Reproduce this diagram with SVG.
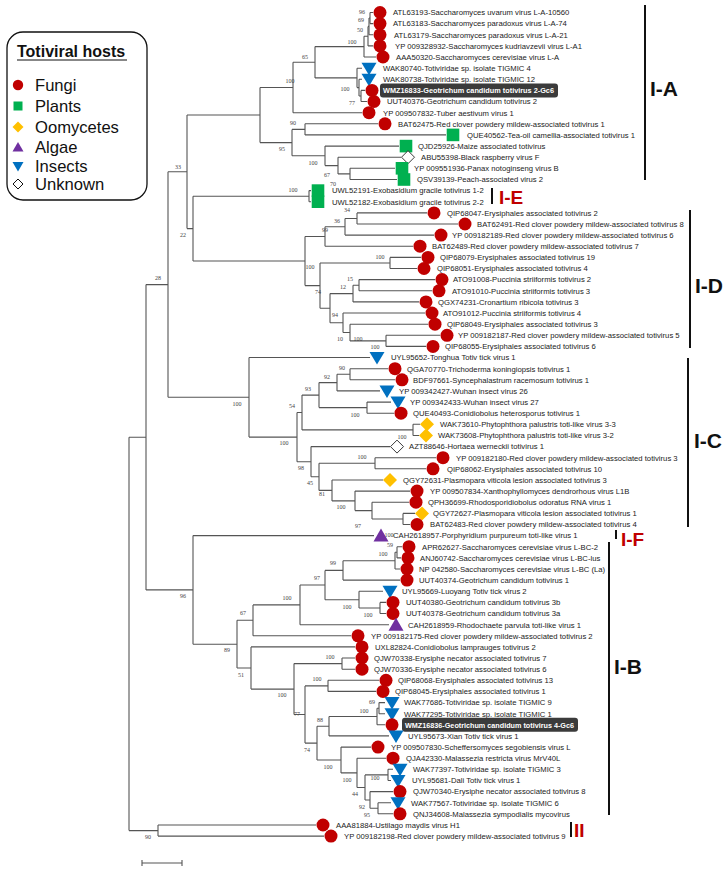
<svg xmlns="http://www.w3.org/2000/svg" width="725" height="871" viewBox="0 0 725 871">
<style>
.br{fill:none;stroke:#555;stroke-width:1.1}
.lf{font-family:"Liberation Sans",Arial,sans-serif;font-size:7.7px;fill:#222}
.hl{font-family:"Liberation Sans",Arial,sans-serif;font-size:7.7px;fill:#fff;font-weight:bold}
.bs{font-family:"Liberation Serif","Times New Roman",serif;font-size:6px;fill:#444;text-anchor:middle}
.cl{font-family:"Liberation Sans",Arial,sans-serif;font-size:21px;font-weight:bold;fill:#111}
.clr{font-family:"Liberation Sans",Arial,sans-serif;font-size:19px;font-weight:bold;fill:#c00000}
.bar{stroke:#111;stroke-width:2}
.lg{font-family:"Liberation Sans",Arial,sans-serif;font-size:16.6px;fill:#111}
</style>
<defs>
<circle id="mF" r="6.5" fill="#c00000"/>
<rect id="mP" x="-6.3" y="-6.3" width="12.6" height="12.6" fill="#00b050"/>
<path id="mO" d="M0,-7L7,0L0,7L-7,0Z" fill="#ffc000"/>
<path id="mU" d="M0,-6.5L6.5,0L0,6.5L-6.5,0Z" fill="#fff" stroke="#222" stroke-width="0.9"/>
<path id="mI" d="M-7.5,-5.5H7.5L0,7Z" fill="#0070c0"/>
<path id="mA" d="M-7.5,6H7.5L0,-7Z" fill="#7030a0"/>
</defs>
<rect width="725" height="871" fill="#fff"/>

<g id="legend">
<rect x="7" y="32" width="140" height="168" rx="16" fill="#fff" stroke="#111" stroke-width="1.3"/>
<text x="17" y="57" font-family="Liberation Sans,Arial,sans-serif" font-size="16px" font-weight="bold" fill="#111">Totiviral hosts</text>
<line x1="17" y1="60" x2="127" y2="60" stroke="#111" stroke-width="1.2"/>
<circle cx="18" cy="85" r="5.2" fill="#c00000"/><text class="lg" x="35" y="91">Fungi</text>
<rect x="13.5" y="101.5" width="9" height="9" fill="#00b050"/><text class="lg" x="35" y="112">Plants</text>
<path d="M18,121.5L23.5,127L18,132.5L12.5,127Z" fill="#ffc000"/><text class="lg" x="35" y="133">Oomycetes</text>
<path d="M12.5,151.5H23.5L18,142Z" fill="#7030a0"/><text class="lg" x="35" y="153">Algae</text>
<path d="M12.5,162H23.5L18,171.5Z" fill="#0070c0"/><text class="lg" x="35" y="172">Insects</text>
<path d="M18,179L23,184L18,189L13,184Z" fill="#fff" stroke="#111" stroke-width="1"/><text class="lg" x="35" y="190">Unknown</text>
</g>

<g id="connectors" class="br">
<path d="M129,437.3V830.6M129,437.3H146M129,830.6H158"/>
<path d="M158,825V836.1M158,825H316M158,836.1H324"/>
<path d="M146,284.6V589.9M146,284.6H168M146,589.9H193"/>
<path d="M168,171.8V397.3M168,171.8H187M168,397.3H249"/>
<path d="M187,115V228.6M187,115H260M187,228.6H193"/>
<path d="M260,87.5V142.6M260,87.5H293M260,142.6H292"/>
<path d="M293,62.3V112.7M293,62.3H315M293,112.7H362"/>
<path d="M315,46.6V77.9M315,46.6H364M315,77.9H357"/>
<path d="M364,36.2V57M364,36.2H368M364,57H376"/>
<path d="M368,26.4V45.9M368,26.4H369M368,45.9H373"/>
<path d="M369,18V34.8M369,18H370M369,34.8H373"/>
<path d="M370,12.5V23.6M370,12.5H373M370,23.6H373"/>
<path d="M357,68.2V87.6M357,68.2H362M357,87.6H359"/>
<path d="M359,79.3V96M359,79.3H362M359,96H361"/>
<path d="M361,90.4V101.5M361,90.4H365M361,101.5H367"/>
<path d="M292,129.4V155.8M292,129.4H305M292,155.8H325"/>
<path d="M305,123.8V134.9M305,123.8H378M305,134.9H446"/>
<path d="M325,146.1V165.6M325,146.1H399M325,165.6H338"/>
<path d="M338,157.2V173.9M338,157.2H401M338,173.9H350"/>
<path d="M350,168.3V179.5M350,168.3H395M350,179.5H397"/>
<path d="M193,196.2V261M193,196.2H309M193,261H305"/>
<path d="M309,190.6V201.7M309,190.6H311M309,201.7H311"/>
<path d="M305,236.5V285.6M305,236.5H325M305,285.6H320"/>
<path d="M325,226.8V246.2M325,226.8H345M325,246.2H413"/>
<path d="M345,218.5V235.1M345,218.5H357M345,235.1H434"/>
<path d="M357,212.9V224M357,212.9H427M357,224H458"/>
<path d="M320,263V308.2M320,263H390M320,308.2H330"/>
<path d="M390,257.4V268.5M390,257.4H421M390,268.5H417"/>
<path d="M330,293.6V322.8M330,293.6H353M330,322.8H343"/>
<path d="M353,285.2V301.9M353,285.2H359M353,301.9H419"/>
<path d="M359,279.6V290.8M359,279.6H435M359,290.8H432"/>
<path d="M343,313V332.5M343,313H425M343,332.5H350"/>
<path d="M350,324.2V340.9M350,324.2H428M350,340.9H386"/>
<path d="M386,335.3V346.4M386,335.3H440M386,346.4H426"/>
<path d="M249,357.5V437.1M249,357.5H370M249,437.1H297"/>
<path d="M297,412.5V461.7M297,412.5H302M297,461.7H311"/>
<path d="M302,395.1V429.9M302,395.1H319M302,429.9H413"/>
<path d="M319,382.6V407.6M319,382.6H337M319,407.6H367"/>
<path d="M337,374.2V390.9M337,374.2H350M337,390.9H380"/>
<path d="M350,368.7V379.8M350,368.7H388M350,379.8H395"/>
<path d="M367,402.1V413.2M367,402.1H391M367,413.2H394"/>
<path d="M413,424.3V435.5M413,424.3H420M413,435.5H419"/>
<path d="M311,446.6V476.8M311,446.6H390M311,476.8H319"/>
<path d="M319,463.2V490.4M319,463.2H375M319,490.4H332"/>
<path d="M375,457.7V468.8M375,457.7H436M375,468.8H426"/>
<path d="M332,480V500.9M332,480H383M332,500.9H355"/>
<path d="M355,491.1V510.6M355,491.1H410M355,510.6H372"/>
<path d="M372,502.2V519M372,502.2H409M372,519H403"/>
<path d="M403,513.4V524.5M403,513.4H415M403,524.5H410"/>
<path d="M193,535.6V644.2M193,535.6H374M193,644.2H237"/>
<path d="M237,620.3V668M237,620.3H253M237,668H251"/>
<path d="M253,604.9V635.8M253,604.9H300M253,635.8H351"/>
<path d="M300,585V624.7M300,585H325M300,624.7H389"/>
<path d="M325,570.4V599.7M325,570.4H343M325,599.7H359"/>
<path d="M343,560.7V580.1M343,560.7H395M343,580.1H400"/>
<path d="M395,552.3V569M395,552.3H397M395,569H400"/>
<path d="M397,546.7V557.9M397,546.7H402M397,557.9H401"/>
<path d="M359,591.3V608M359,591.3H383M359,608H380"/>
<path d="M380,602.4V613.5M380,602.4H386M380,613.5H386"/>
<path d="M251,646.9V689.1M251,646.9H355M251,689.1H294"/>
<path d="M294,663.6V714.5M294,663.6H342M294,714.5H305"/>
<path d="M342,658V669.2M342,658H355M342,669.2H355"/>
<path d="M305,685.9V743.1M305,685.9H328M305,743.1H317"/>
<path d="M328,680.3V691.4M328,680.3H379M328,691.4H376"/>
<path d="M317,726.2V760M317,726.2H329M317,760H341"/>
<path d="M329,716.5V735.9M329,716.5H377M329,735.9H389"/>
<path d="M377,708.2V724.8M377,708.2H379M377,724.8H385"/>
<path d="M379,702.6V713.7M379,702.6H385M379,713.7H385"/>
<path d="M341,747.1V772.9M341,747.1H371M341,772.9H357"/>
<path d="M357,758.2V787.5M357,758.2H386M357,787.5H365"/>
<path d="M365,774.9V800M365,774.9H388M365,800H370"/>
<path d="M388,769.3V780.5M388,769.3H393M388,780.5H391"/>
<path d="M370,791.6V808.3M370,791.6H393M370,808.3H378"/>
<path d="M378,802.7V813.8M378,802.7H391M378,813.8H393"/>
<path d="M142,863H182M142,860V866M182,860V866"/>
</g>

<g id="support">
<text class="bs" x="362" y="14">96</text><text class="bs" x="361" y="22">69</text><text class="bs" x="360" y="32">50</text><text class="bs" x="352" y="44">100</text>
<text class="bs" x="305" y="59">65</text><text class="bs" x="290" y="83">100</text><text class="bs" x="345" y="91">100</text><text class="bs" x="352" y="105">77</text>
<text class="bs" x="293" y="125">90</text><text class="bs" x="282" y="151">95</text><text class="bs" x="313" y="165">100</text><text class="bs" x="327" y="177">67</text><text class="bs" x="333" y="186">70</text>
<text class="bs" x="178" y="169">33</text><text class="bs" x="183" y="237">22</text><text class="bs" x="158" y="280">28</text>
<text class="bs" x="293" y="192">100</text>
<text class="bs" x="347" y="212">34</text><text class="bs" x="337" y="223">36</text><text class="bs" x="325" y="232">99</text>
<text class="bs" x="380" y="259">100</text><text class="bs" x="310" y="269">100</text><text class="bs" x="350" y="281">15</text><text class="bs" x="343" y="289">12</text><text class="bs" x="318" y="294">74</text>
<text class="bs" x="335" y="317">94</text><text class="bs" x="340" y="341">10</text><text class="bs" x="358" y="341">100</text><text class="bs" x="375" y="349">100</text>
<text class="bs" x="237" y="406">100</text><text class="bs" x="342" y="370">90</text><text class="bs" x="327" y="379">92</text><text class="bs" x="308" y="391">93</text><text class="bs" x="292" y="408">54</text>
<text class="bs" x="355" y="417">100</text><text class="bs" x="402" y="439">100</text><text class="bs" x="284" y="445">100</text><text class="bs" x="362" y="459">100</text>
<text class="bs" x="301" y="470">98</text><text class="bs" x="310" y="485">45</text><text class="bs" x="322" y="496">81</text><text class="bs" x="341" y="509">100</text><text class="bs" x="358" y="528">97</text><text class="bs" x="389" y="537">100</text>
<text class="bs" x="390" y="547">59</text><text class="bs" x="383" y="556">100</text><text class="bs" x="333" y="565">99</text><text class="bs" x="317" y="580">97</text><text class="bs" x="287" y="600">100</text>
<text class="bs" x="347" y="609">100</text><text class="bs" x="368" y="617">100</text><text class="bs" x="183" y="598">96</text><text class="bs" x="243" y="615">67</text><text class="bs" x="227" y="652">89</text>
<text class="bs" x="330" y="659">100</text><text class="bs" x="241" y="677">51</text><text class="bs" x="317" y="681">100</text><text class="bs" x="282" y="697">100</text>
<text class="bs" x="372" y="704">69</text><text class="bs" x="364" y="713">100</text><text class="bs" x="297" y="716">77</text><text class="bs" x="320" y="722">88</text><text class="bs" x="307" y="752">74</text>
<text class="bs" x="328" y="769">100</text><text class="bs" x="347" y="782">100</text><text class="bs" x="375" y="780">100</text><text class="bs" x="355" y="796">44</text><text class="bs" x="362" y="809">92</text><text class="bs" x="367" y="817">95</text>
<text class="bs" x="148" y="839">90</text>
</g>

<g id="n1"><use href="#mF" x="380" y="12.5"/><text class="lf" x="393" y="15.3">ATL63193-Saccharomyces uvarum virus L-A-10560</text></g>
<g id="n2"><use href="#mF" x="380" y="23.6"/><text class="lf" x="393" y="26.4">ATL63183-Saccharomyces paradoxus virus L-A-74</text></g>
<g id="n3"><use href="#mF" x="380" y="34.8"/><text class="lf" x="394" y="37.6">ATL63179-Saccharomyces paradoxus virus L-A-21</text></g>
<g id="n4"><use href="#mF" x="380" y="45.9"/><text class="lf" x="395" y="48.7">YP 009328932-Saccharomyces kudriavzevii virus L-A1</text></g>
<g id="n5"><use href="#mF" x="383" y="57"/><text class="lf" x="396" y="59.8">AAA50320-Saccharomyces cerevisiae virus L-A</text></g>
<g id="n6"><use href="#mI" x="369" y="68.2"/><text class="lf" x="383" y="71">WAK80740-Totiviridae sp. isolate TIGMIC 4</text></g>
<g id="n7"><use href="#mI" x="369" y="79.3"/><text class="lf" x="383" y="82.1">WAK80738-Totiviridae sp. isolate TIGMIC 12</text></g>
<g id="n8"><use href="#mF" x="372" y="90.4"/><rect x="380" y="83.4" width="178" height="14" rx="3" fill="#3b3b3b"/><text class="hl" x="383" y="93.2" textLength="171" lengthAdjust="spacingAndGlyphs">WMZ16833-Geotrichum candidum totivirus 2-Gc6</text></g>
<g id="n9"><use href="#mF" x="374" y="101.5"/><text class="lf" x="387" y="104.3">UUT40376-Geotrichum candidum totivirus 2</text></g>
<g id="n10"><use href="#mF" x="369" y="112.7"/><text class="lf" x="383" y="115.5">YP 009507832-Tuber aestivum virus 1</text></g>
<g id="n11"><use href="#mF" x="385" y="123.8"/><text class="lf" x="398" y="126.6">BAT62475-Red clover powdery mildew-associated totivirus 1</text></g>
<g id="n12"><use href="#mP" x="453" y="134.9"/><text class="lf" x="467" y="137.7">QUE40562-Tea-oil camellia-associated totivirus 1</text></g>
<g id="n13"><use href="#mP" x="406" y="146.1"/><text class="lf" x="418" y="148.9">QJD25926-Maize associated totivirus</text></g>
<g id="n14"><use href="#mU" x="408" y="157.2"/><text class="lf" x="421" y="160">ABU55398-Black raspberry virus F</text></g>
<g id="n15"><use href="#mP" x="402" y="168.3"/><text class="lf" x="414" y="171.1">YP 009551936-Panax notoginseng virus B</text></g>
<g id="n16"><use href="#mP" x="404" y="179.5"/><text class="lf" x="417" y="182.3">QSV39139-Peach-associated virus 2</text></g>
<g id="n17"><use href="#mP" x="318" y="190.6"/><text class="lf" x="332" y="193.4">UWL52191-Exobasidium gracile totivirus 1-2</text></g>
<g id="n18"><use href="#mP" x="318" y="201.7"/><text class="lf" x="332" y="204.5">UWL52182-Exobasidium gracile totivirus 2-2</text></g>
<g id="n19"><use href="#mF" x="434" y="212.9"/><text class="lf" x="447" y="215.7">QIP68047-Erysiphales associated totivirus 2</text></g>
<g id="n20"><use href="#mF" x="465" y="224"/><text class="lf" x="477" y="226.8">BAT62491-Red clover powdery mildew-associated totivirus 8</text></g>
<g id="n21"><use href="#mF" x="441" y="235.1"/><text class="lf" x="452" y="237.9">YP 009182189-Red clover powdery mildew-associated totivirus 6</text></g>
<g id="n22"><use href="#mF" x="420" y="246.2"/><text class="lf" x="432" y="249">BAT62489-Red clover powdery mildew-associated totivirus 7</text></g>
<g id="n23"><use href="#mF" x="428" y="257.4"/><text class="lf" x="440" y="260.2">QIP68079-Erysiphales associated totivirus 19</text></g>
<g id="n24"><use href="#mF" x="424" y="268.5"/><text class="lf" x="437" y="271.3">QIP68051-Erysiphales associated totivirus 4</text></g>
<g id="n25"><use href="#mF" x="442" y="279.6"/><text class="lf" x="453" y="282.4">ATO91008-Puccinia striiformis totivirus 2</text></g>
<g id="n26"><use href="#mF" x="439" y="290.8"/><text class="lf" x="452" y="293.6">ATO91010-Puccinia striiformis totivirus 3</text></g>
<g id="n27"><use href="#mF" x="426" y="301.9"/><text class="lf" x="438" y="304.7">QGX74231-Cronartium ribicola totivirus 3</text></g>
<g id="n28"><use href="#mF" x="432" y="313"/><text class="lf" x="443" y="315.8">ATO91012-Puccinia striiformis totivirus 4</text></g>
<g id="n29"><use href="#mF" x="435" y="324.2"/><text class="lf" x="447" y="327">QIP68049-Erysiphales associated totivirus 3</text></g>
<g id="n30"><use href="#mF" x="447" y="335.3"/><text class="lf" x="458" y="338.1">YP 009182187-Red clover powdery mildew-associated totivirus 5</text></g>
<g id="n31"><use href="#mF" x="433" y="346.4"/><text class="lf" x="445" y="349.2">QIP68055-Erysiphales associated totivirus 6</text></g>
<g id="n32"><use href="#mI" x="377" y="357.5"/><text class="lf" x="391" y="360.3">UYL95652-Tonghua Totiv tick virus 1</text></g>
<g id="n33"><use href="#mF" x="395" y="368.7"/><text class="lf" x="407" y="371.5">QGA70770-Trichoderma koningiopsis totivirus 1</text></g>
<g id="n34"><use href="#mF" x="402" y="379.8"/><text class="lf" x="413" y="382.6">BDF97661-Syncephalastrum racemosum totivirus 1</text></g>
<g id="n35"><use href="#mI" x="387" y="390.9"/><text class="lf" x="399" y="393.7">YP 009342427-Wuhan insect virus 26</text></g>
<g id="n36"><use href="#mI" x="398" y="402.1"/><text class="lf" x="410" y="404.9">YP 009342433-Wuhan insect virus 27</text></g>
<g id="n37"><use href="#mF" x="401" y="413.2"/><text class="lf" x="413" y="416">QUE40493-Conidiobolus heterosporus totivirus 1</text></g>
<g id="n38"><use href="#mO" x="427" y="424.3"/><text class="lf" x="440" y="427.1">WAK73610-Phytophthora palustris toti-like virus 3-3</text></g>
<g id="n39"><use href="#mO" x="426" y="435.5"/><text class="lf" x="438" y="438.3">WAK73608-Phytophthora palustris toti-like virus 3-2</text></g>
<g id="n40"><use href="#mU" x="397" y="446.6"/><text class="lf" x="409" y="449.4">AZT88646-Hortaea werneckii totivirus 1</text></g>
<g id="n41"><use href="#mF" x="443" y="457.7"/><text class="lf" x="456" y="460.5">YP 009182180-Red clover powdery mildew-associated totivirus 3</text></g>
<g id="n42"><use href="#mF" x="433" y="468.8"/><text class="lf" x="447" y="471.6">QIP68062-Erysiphales associated totivirus 10</text></g>
<g id="n43"><use href="#mO" x="390" y="480"/><text class="lf" x="403" y="482.8">QGY72631-Plasmopara viticola lesion associated totivirus 3</text></g>
<g id="n44"><use href="#mF" x="417" y="491.1"/><text class="lf" x="430" y="493.9">YP 009507834-Xanthophyllomyces dendrorhous virus L1B</text></g>
<g id="n45"><use href="#mF" x="416" y="502.2"/><text class="lf" x="428" y="505">QPH36699-Rhodosporidiobolus odoratus RNA virus 1</text></g>
<g id="n46"><use href="#mO" x="422" y="513.4"/><text class="lf" x="433" y="516.2">QGY72627-Plasmopara viticola lesion associated totivirus 1</text></g>
<g id="n47"><use href="#mF" x="417" y="524.5"/><text class="lf" x="430" y="527.3">BAT62483-Red clover powdery mildew-associated totivirus 4</text></g>
<g id="n48"><use href="#mA" x="381" y="535.6"/><text class="lf" x="393" y="538.4">CAH2618957-Porphyridium purpureum toti-like virus 1</text></g>
<g id="n49"><use href="#mF" x="409" y="546.7"/><text class="lf" x="422" y="549.5">APR62627-Saccharomyces cerevisiae virus L-BC-2</text></g>
<g id="n50"><use href="#mF" x="408" y="557.9"/><text class="lf" x="420" y="560.7">ANJ60742-Saccharomyces cerevisiae virus L-BC-lus</text></g>
<g id="n51"><use href="#mF" x="407" y="569"/><text class="lf" x="419" y="571.8">NP 042580-Saccharomyces cerevisiae virus L-BC (La)</text></g>
<g id="n52"><use href="#mF" x="407" y="580.1"/><text class="lf" x="419" y="582.9">UUT40374-Geotrichum candidum totivirus 1</text></g>
<g id="n53"><use href="#mI" x="390" y="591.3"/><text class="lf" x="402" y="594.1">UYL95669-Luoyang Totiv tick virus 2</text></g>
<g id="n54"><use href="#mF" x="393" y="602.4"/><text class="lf" x="406" y="605.2">UUT40380-Geotrichum candidum totivirus 3b</text></g>
<g id="n55"><use href="#mF" x="393" y="613.5"/><text class="lf" x="406" y="616.3">UUT40378-Geotrichum candidum totivirus 3a</text></g>
<g id="n56"><use href="#mA" x="396" y="624.7"/><text class="lf" x="408" y="627.5">CAH2618959-Rhodochaete parvula toti-like virus 1</text></g>
<g id="n57"><use href="#mF" x="358" y="635.8"/><text class="lf" x="371" y="638.6">YP 009182175-Red clover powdery mildew-associated totivirus 2</text></g>
<g id="n58"><use href="#mF" x="362" y="646.9"/><text class="lf" x="375" y="649.7">UXL82824-Conidiobolus lamprauges totivirus 2</text></g>
<g id="n59"><use href="#mF" x="362" y="658"/><text class="lf" x="374" y="660.8">QJW70338-Erysiphe necator associated totivirus 7</text></g>
<g id="n60"><use href="#mF" x="362" y="669.2"/><text class="lf" x="374" y="672">QJW70336-Erysiphe necator associated totivirus 6</text></g>
<g id="n61"><use href="#mF" x="386" y="680.3"/><text class="lf" x="398" y="683.1">QIP68068-Erysiphales associated totivirus 13</text></g>
<g id="n62"><use href="#mF" x="383" y="691.4"/><text class="lf" x="395" y="694.2">QIP68045-Erysiphales associated totivirus 1</text></g>
<g id="n63"><use href="#mI" x="392" y="702.6"/><text class="lf" x="404" y="705.4">WAK77686-Totiviridae sp. isolate TIGMIC 9</text></g>
<g id="n64"><use href="#mI" x="392" y="713.7"/><text class="lf" x="404" y="716.5">WAK77295-Totiviridae sp. isolate TIGMIC 1</text></g>
<g id="n65"><use href="#mF" x="392" y="724.8"/><rect x="402" y="717.8" width="176" height="14" rx="3" fill="#3b3b3b"/><text class="hl" x="405" y="727.6" textLength="169" lengthAdjust="spacingAndGlyphs">WMZ16836-Geotrichum candidum totivirus 4-Gc6</text></g>
<g id="n66"><use href="#mI" x="396" y="735.9"/><text class="lf" x="408" y="738.7">UYL95673-Xian Totiv tick virus 1</text></g>
<g id="n67"><use href="#mF" x="378" y="747.1"/><text class="lf" x="391" y="749.9">YP 009507830-Scheffersomyces segobiensis virus L</text></g>
<g id="n68"><use href="#mF" x="393" y="758.2"/><text class="lf" x="406" y="761">QJA42330-Malassezia restricta virus MrV40L</text></g>
<g id="n69"><use href="#mI" x="400" y="769.3"/><text class="lf" x="413" y="772.1">WAK77397-Totiviridae sp. isolate TIGMIC 3</text></g>
<g id="n70"><use href="#mI" x="398" y="780.5"/><text class="lf" x="412" y="783.3">UYL95681-Dali Totiv tick virus 1</text></g>
<g id="n71"><use href="#mF" x="400" y="791.6"/><text class="lf" x="413" y="794.4">QJW70340-Erysiphe necator associated totivirus 8</text></g>
<g id="n72"><use href="#mI" x="398" y="802.7"/><text class="lf" x="411" y="805.5">WAK77567-Totiviridae sp. isolate TIGMIC 6</text></g>
<g id="n73"><use href="#mF" x="400" y="813.8"/><text class="lf" x="413" y="816.6">QNJ34608-Malassezia sympodialis mycovirus</text></g>
<g id="n74"><use href="#mF" x="323" y="825"/><text class="lf" x="336" y="827.8">AAA81884-Ustilago maydis virus H1</text></g>
<g id="n75"><use href="#mF" x="331" y="836.1"/><text class="lf" x="344" y="838.9">YP 009182198-Red clover powdery mildew-associated totivirus 9</text></g>

<g id="clades">
<line class="bar" x1="645" y1="5" x2="645" y2="180"/><text class="cl" x="650" y="95.5">I-A</text>
<line class="bar" x1="492" y1="188" x2="492" y2="204"/><text class="clr" x="499" y="203.5">I-E</text>
<line class="bar" x1="690" y1="210" x2="690" y2="348"/><text class="cl" x="695" y="292.5">I-D</text>
<line class="bar" x1="688" y1="358" x2="688" y2="527"/><text class="cl" x="694" y="447.5">I-C</text>
<line class="bar" x1="616" y1="530" x2="616" y2="539"/><text class="clr" x="621" y="545.5" font-size="17.5px">I-F</text>
<line class="bar" x1="609" y1="542" x2="609" y2="815"/><text class="cl" x="614" y="674">I-B</text>
<line class="bar" x1="571" y1="822" x2="571" y2="837"/><text class="clr" x="574" y="836.5" font-size="21px">II</text>
</g>
</svg>
